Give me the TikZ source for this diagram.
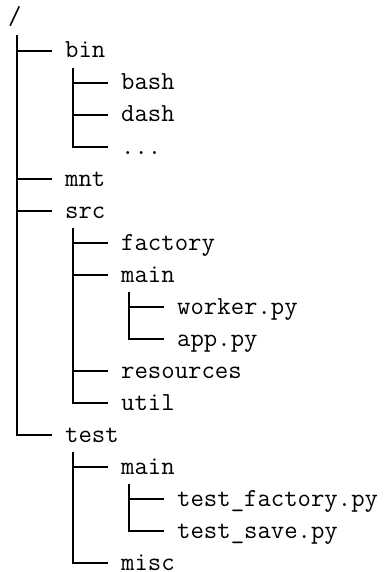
\documentclass[tikz,border=0pt]{standalone}
\usepackage{fontspec}
\begin{document}
\begin{tikzpicture}[x=1pt,y=-1pt,
  entry/.style={inner xsep=13pt, inner ysep=0pt, text height=15pt, text depth=1pt,
    anchor=west, font=\fontsize{26}{30}\ttfamily},
  branch/.style={line width=1.2pt, black}]
\useasboundingbox (0,0) rectangle (388,572);
% root
\node[inner sep=0pt, anchor=base west, font=\fontsize{26}{30}\ttfamily] (root) at (8,25) {/};
% level 1
\node[entry] (bin)  at (52,51)  {bin};
\node[entry] (mnt)  at (52,179) {mnt};
\node[entry] (src)  at (52,211) {src};
\node[entry] (test) at (52,435) {test};
% bin children
\node[entry] (bash) at (108,83)  {bash};
\node[entry] (dash) at (108,115) {dash};
\node[entry] (dots) at (108,147) {...};
% src children
\node[entry] (factory)   at (108,243) {factory};
\node[entry] (srcmain)   at (108,275) {main};
\node[entry] (resources) at (108,371) {resources};
\node[entry] (util)      at (108,403) {util};
% src/main children
\node[entry] (worker) at (164,307) {worker.py};
\node[entry] (app)    at (164,339) {app.py};
% test children
\node[entry] (testmain) at (108,467) {main};
\node[entry] (misc)     at (108,563) {misc};
% test/main children
\node[entry] (tfactory) at (164,499) {test\_factory.py};
\node[entry] (tsave)    at (164,531) {test\_save.py};
% vertical line tops
\coordinate (rootv)     at (17,35);
\coordinate (binv)      at (73,68);
\coordinate (srcv)      at (73,228);
\coordinate (srcmainv)  at (129,292);
\coordinate (testv)     at (73,452);
\coordinate (testmainv) at (129,484);
% connectors
\foreach \c in {bin,mnt,src,test} \draw[branch] (rootv) |- (\c.west);
\foreach \c in {bash,dash,dots} \draw[branch] (binv) |- (\c.west);
\foreach \c in {factory,srcmain,resources,util} \draw[branch] (srcv) |- (\c.west);
\foreach \c in {worker,app} \draw[branch] (srcmainv) |- (\c.west);
\foreach \c in {testmain,misc} \draw[branch] (testv) |- (\c.west);
\foreach \c in {tfactory,tsave} \draw[branch] (testmainv) |- (\c.west);
\end{tikzpicture}
\end{document}
